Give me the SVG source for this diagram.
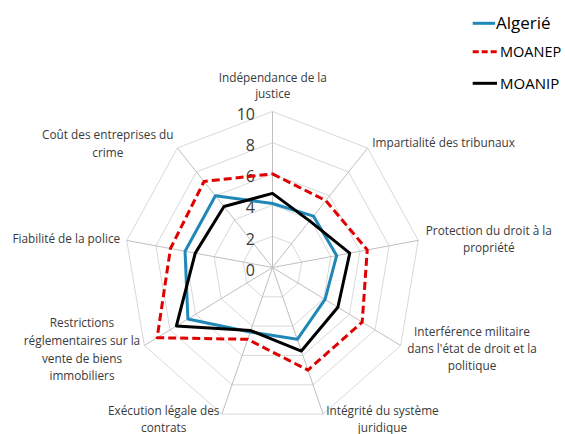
<svg xmlns="http://www.w3.org/2000/svg" width="565" height="434" viewBox="0 0 565 434">
<style>
.ring{fill:none;stroke:#d9d9d9;stroke-width:1}
.spoke{stroke:#bfbfbf;stroke-width:1}
.lbl{font-family:"Open Sans","Noto Sans","DejaVu Sans",sans-serif;font-size:11.8px;fill:#3a3a3a;text-anchor:middle}
.tick{font-family:"Open Sans","Noto Sans","DejaVu Sans",sans-serif;font-size:16px;fill:#3a3a3a;text-anchor:end}
.leg{font-family:"Open Sans","Noto Sans","DejaVu Sans",sans-serif;fill:#000}
.s{fill:none;stroke-width:3;stroke-linejoin:round}
.alg{stroke:#1f88b8}
.nep{stroke:#e00000;stroke-dasharray:8 4}
.nip{stroke:#000}
</style>
<rect width="565" height="434" fill="#fff"/>
<g id="grid">
<polygon class="ring" points="272.5,111.5 367.63,148 418.25,240.41 400.67,345.5 323.12,414.09 221.88,414.09 144.33,345.5 126.75,240.41 177.37,148"/>
<polygon class="ring" points="272.5,142.7 348.6,171.9 389.1,245.83 375.04,329.9 313,384.77 232,384.77 169.96,329.9 155.9,245.83 196.4,171.9"/>
<polygon class="ring" points="272.5,173.9 329.58,195.8 359.95,251.25 349.4,314.3 302.87,355.45 242.13,355.45 195.6,314.3 185.05,251.25 215.42,195.8"/>
<polygon class="ring" points="272.5,205.1 310.55,219.7 330.8,256.66 323.77,298.7 292.75,326.14 252.25,326.14 221.23,298.7 214.2,256.66 234.45,219.7"/>
<polygon class="ring" points="272.5,236.3 291.53,243.6 301.65,262.08 298.13,283.1 282.62,296.82 262.38,296.82 246.87,283.1 243.35,262.08 253.47,243.6"/>
<line class="spoke" x1="272.5" y1="267.5" x2="272.5" y2="111.5"/>
<line class="spoke" x1="272.5" y1="267.5" x2="367.63" y2="148"/>
<line class="spoke" x1="272.5" y1="267.5" x2="418.25" y2="240.41"/>
<line class="spoke" x1="272.5" y1="267.5" x2="400.67" y2="345.5"/>
<line class="spoke" x1="272.5" y1="267.5" x2="323.12" y2="414.09"/>
<line class="spoke" x1="272.5" y1="267.5" x2="221.88" y2="414.09"/>
<line class="spoke" x1="272.5" y1="267.5" x2="144.33" y2="345.5"/>
<line class="spoke" x1="272.5" y1="267.5" x2="126.75" y2="240.41"/>
<line class="spoke" x1="272.5" y1="267.5" x2="177.37" y2="148"/>
</g>
<g id="ticks">
<text class="tick" x="255" y="120">10</text>
<text class="tick" x="255" y="151">8</text>
<text class="tick" x="255" y="182.3">6</text>
<text class="tick" x="255" y="213.4">4</text>
<text class="tick" x="255" y="244.8">2</text>
<text class="tick" x="255" y="275.8">0</text>
</g>
<g id="connectors">
<polygon id="s-algerie" class="s alg" points="272.5,203.54 313.41,216.11 336.63,255.58 325.05,299.48 297.3,339.33 250.23,332 187.91,318.98 185.05,251.25 215.42,195.8"/>
<polygon id="s-moanep" class="s nep" points="272.5,173.9 325.77,200.58 367.24,249.89 362.22,322.1 307.93,370.11 247.7,339.33 157.15,337.7 170.47,248.54 204.01,181.46"/>
<polygon id="s-moanip" class="s nip" points="272.5,193.4 309.6,220.9 349.75,253.14 337.87,307.28 301.35,351.06 250.73,330.53 176.37,326 195.25,253.14 223.98,206.55"/>
</g>
<g id="n-independance"><text class="lbl" x="272.8" y="81.5">Indépendance de la</text><text class="lbl" x="272.8" y="98">justice</text></g>
<g id="n-impartialite"><text class="lbl" x="372.3" y="147" style="text-anchor:start">Impartialité des tribunaux</text></g>
<g id="n-protection"><text class="lbl" x="488.8" y="235">Protection du droit à la</text><text class="lbl" x="488.8" y="252">propriété</text></g>
<g id="n-interference"><text class="lbl" x="472" y="336">Interférence militaire</text><text class="lbl" x="472" y="353">dans l'état de droit et la</text><text class="lbl" x="472" y="370">politique</text></g>
<g id="n-integrite"><text class="lbl" x="382.5" y="415">Intégrité du système</text><text class="lbl" x="382.5" y="432">juridique</text></g>
<g id="n-execution"><text class="lbl" x="163.7" y="415">Exécution légale des</text><text class="lbl" x="163.7" y="432">contrats</text></g>
<g id="n-restrictions"><text class="lbl" x="82" y="327">Restrictions</text><text class="lbl" x="82" y="345">réglementaires sur la</text><text class="lbl" x="82" y="363">vente de biens</text><text class="lbl" x="82" y="380">immobiliers</text></g>
<g id="n-fiabilite"><text class="lbl" x="66.3" y="243.3">Fiabilité de la police</text></g>
<g id="n-cout"><text class="lbl" x="107.8" y="139.3">Coût des entreprises du</text><text class="lbl" x="107.8" y="156.7">crime</text></g>
<g id="legend">
<line class="s alg" x1="472.7" y1="23.3" x2="495" y2="23.3"/>
<text class="leg" x="496" y="29.3" style="font-size:17px">Algerié</text>
<line class="s nep" x1="472.7" y1="51.7" x2="499" y2="51.7" style="stroke-dasharray:6 3"/>
<text class="leg" x="500" y="57.3" style="font-size:14.5px">MOANEP</text>
<line class="s nip" x1="472.7" y1="83.3" x2="497" y2="83.3"/>
<text class="leg" x="500" y="88.7" style="font-size:15px">MOANIP</text>
</g>
</svg>
